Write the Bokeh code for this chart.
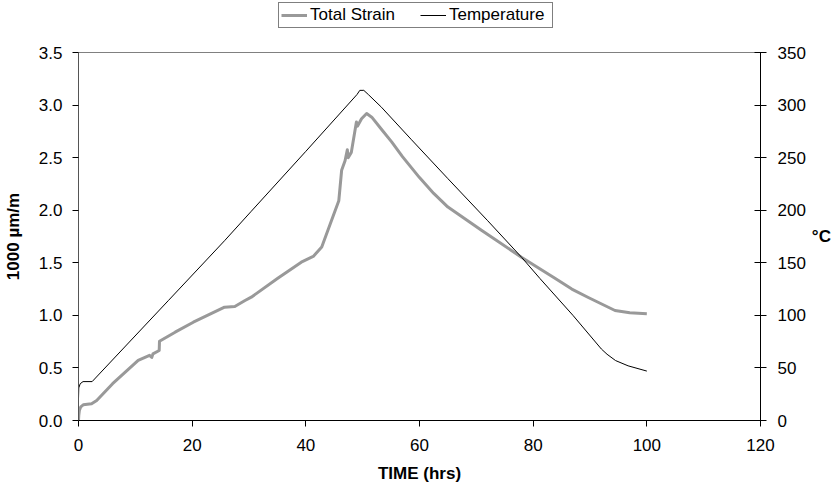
from bokeh.plotting import figure
from bokeh.layouts import column
from bokeh.models import (Range1d, LinearAxis, FixedTicker, NumeralTickFormatter,
                          Legend, LegendItem)
from bokeh.embed import file_html
from bokeh.resources import INLINE

# ---- data ----
strain_time = [0.0, 0.05, 0.15, 0.4, 0.83, 2.3, 3.2, 6.0, 10.5, 12.5, 12.9, 13.1,
               14.2, 14.25, 17.0, 20.2, 25.7, 27.5, 29.3, 30.4, 35.0, 39.2, 41.3,
               42.8, 44.5, 45.8, 46.3, 46.9, 47.3, 47.45, 48.0, 48.9, 49.1, 49.8,
               50.7, 51.6, 53.3, 55.1, 57.0, 60.0, 62.5, 65.0, 70.9, 78.0, 83.9,
               86.8, 89.7, 94.4, 97.0, 100.0]
strain_vals = [0.0, 0.05, 0.095, 0.13, 0.149, 0.159, 0.19, 0.35, 0.571, 0.62, 0.60,
               0.634, 0.666, 0.754, 0.84, 0.935, 1.078, 1.084, 1.141, 1.173, 1.35,
               1.506, 1.56, 1.65, 1.90, 2.09, 2.38, 2.47, 2.575, 2.50, 2.55, 2.84,
               2.80, 2.87, 2.92, 2.885, 2.77, 2.65, 2.51, 2.31, 2.16, 2.03, 1.81,
               1.55, 1.35, 1.25, 1.17, 1.046, 1.025, 1.015]

temp_time = [0.0, 0.05, 0.3, 0.8, 2.4, 15.8, 25.7, 30.4, 40.0, 49.0, 49.5, 50.2,
             51.0, 53.3, 58.6, 65.0, 72.0, 78.0, 81.2, 87.0, 92.0, 93.0, 94.5,
             96.7, 100.0]
temp_vals = [21, 31, 35, 37, 37, 114, 171, 199, 256, 310, 314, 314, 310, 298, 267,
             230, 190, 155, 135, 100, 68, 63, 57, 52, 47]

series_names = ["Total Strain", "Temperature"]
x_ticks = [0, 20, 40, 60, 80, 100, 120]
strain_ticks = [0.0, 0.5, 1.0, 1.5, 2.0, 2.5, 3.0, 3.5]
temp_ticks = [0, 50, 100, 150, 200, 250, 300, 350]

FONT = "Liberation Sans"
STRAIN_STYLE = dict(line_color="#999999", line_width=3, line_join="round")
TEMP_STYLE = dict(line_color="black", line_width=1)

LEG_H = 34

# ---------- legend strip (its lines lie outside its visible range) ----------
lg = figure(width=831, height=LEG_H, x_range=Range1d(-20, -10),
            y_range=Range1d(-20, -10), x_axis_type=None, y_axis_type=None,
            output_backend="svg", toolbar_location=None, min_border=0)
lg.grid.visible = False
lg.outline_line_color = None
lg.background_fill_color = "white"
lg.border_fill_color = "white"
lr1 = lg.line(strain_time, strain_vals, **STRAIN_STYLE)
lr2 = lg.line(temp_time, temp_vals, **TEMP_STYLE)
legend = Legend(items=[LegendItem(label=series_names[0], renderers=[lr1]),
                       LegendItem(label=series_names[1], renderers=[lr2])],
                orientation="horizontal", location=(200, 6))
legend.margin = 0
legend.padding = 2
legend.spacing = 9
legend.glyph_width = 26
legend.glyph_height = 16
legend.label_width = 101
legend.label_height = 16
legend.label_standoff = 3
legend.label_text_font = FONT
legend.label_text_font_size = "17px"
legend.label_text_color = "black"
legend.border_line_color = "black"
legend.border_line_width = 1
legend.background_fill_color = "white"
legend.background_fill_alpha = 1
lg.add_layout(legend)

# ---------- main chart ----------
p = figure(frame_width=682, frame_height=368,
           x_range=Range1d(0, 120), y_range=Range1d(0, 3.5),
           output_backend="svg", toolbar_location=None,
           min_border_left=77, min_border_top=52 - LEG_H, min_border_right=0,
           min_border_bottom=68)
p.extra_y_ranges = {"temp": Range1d(0, 350)}
p.grid.visible = False
p.background_fill_color = "white"
p.border_fill_color = "white"
p.outline_line_color = "#808080"
p.outline_line_width = 1

p.line(strain_time, strain_vals, **STRAIN_STYLE)
p.line(temp_time, temp_vals, y_range_name="temp", **TEMP_STYLE)

right = LinearAxis(y_range_name="temp", axis_label="°C")
p.add_layout(right, "right")

xa = p.xaxis[0]
xa.ticker = FixedTicker(ticks=x_ticks)
xa.axis_label = "TIME (hrs)"
xa.major_tick_in = 0
xa.major_tick_out = 6
xa.major_label_standoff = 12
xa.axis_label_standoff = 10

ya = p.yaxis[0]
ya.ticker = FixedTicker(ticks=strain_ticks)
ya.formatter = NumeralTickFormatter(format="0.0")
ya.axis_label = "1000 µm/m"
ya.major_tick_in = 0
ya.major_tick_out = 6
ya.major_label_standoff = 10
ya.axis_label_standoff = 13
ya.axis_line_color = "#555555"

right.ticker = FixedTicker(ticks=temp_ticks)
right.major_tick_in = 6
right.major_tick_out = 6
right.major_label_standoff = 11
right.axis_label_standoff = 3
right.axis_label_orientation = "horizontal"

for ax in [xa, ya, right]:
    ax.minor_tick_line_color = None
    ax.major_label_text_font = FONT
    ax.major_label_text_font_size = "17px"
    ax.major_label_text_color = "black"
    ax.axis_label_text_font = FONT
    ax.axis_label_text_font_size = "17px"
    ax.axis_label_text_font_style = "bold"
    ax.axis_label_text_color = "black"
    ax.major_tick_line_color = "black"
    ax.axis_line_width = 1
xa.axis_line_color = "black"
right.axis_line_color = "black"

layout = column(lg, p, spacing=0)
open("out.html", "w").write(file_html(layout, INLINE))
